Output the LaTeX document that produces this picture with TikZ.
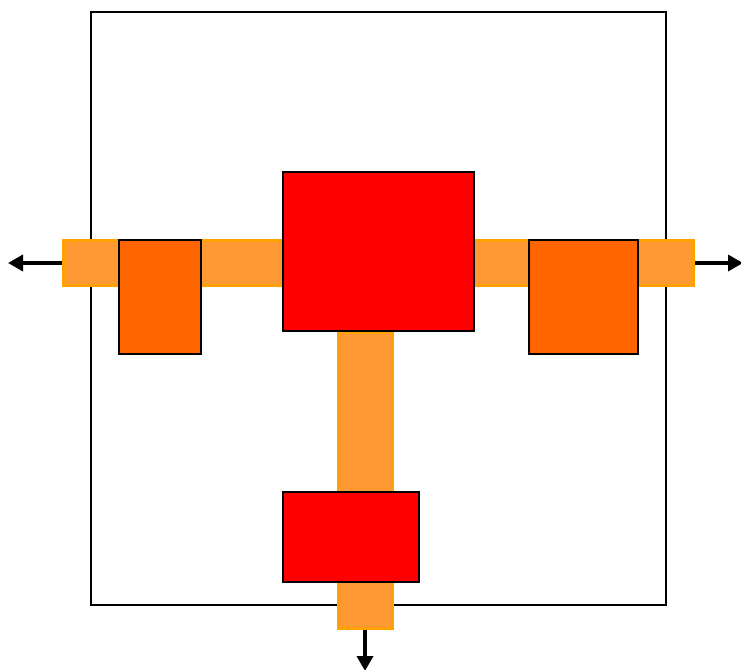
\documentclass[tikz,border=0pt]{standalone}
\usetikzlibrary{arrows.meta}
\definecolor{barfill}{HTML}{FF9933}
\definecolor{bardraw}{HTML}{FFA200}
\definecolor{boxorange}{HTML}{FF6600}
\begin{document}
\begin{tikzpicture}[x=1pt,y=-1pt,
  bar/.style={rectangle, inner sep=0pt, fill=barfill, draw=bardraw, line width=3pt},
  redbox/.style={rectangle, inner sep=0pt, fill=red, draw=black, line width=1.5pt},
  orangebox/.style={rectangle, inner sep=0pt, fill=boxorange, draw=black, line width=1.3pt},
  outarrow/.style={line width=3.5pt, -{Triangle[length=15pt,width=16pt]}}]
\useasboundingbox (0,0) rectangle (741,669);
\node[rectangle, draw=black, line width=1.5pt, inner sep=0pt, minimum width=575pt, minimum height=593pt] (frame) at (378.5,308.5) {};
\node[bar, minimum width=630pt, minimum height=45pt] (hbar) at (378.5,263) {};
\node[bar, minimum width=54pt, minimum height=296pt] (vbar) at (365,480) {};
\node[redbox, minimum width=191pt, minimum height=159pt] (bigred) at (378.5,251.5) {};
\node[redbox, minimum width=136pt, minimum height=90pt] (smallred) at (351,537) {};
\node[orangebox, minimum width=82pt, minimum height=114pt] (leftbox) at (160,297) {};
\node[orangebox, minimum width=109pt, minimum height=114pt] (rightbox) at (583.5,297) {};
\coordinate (lend) at (8,263);
\coordinate (rend) at (743,263);
\coordinate (dend) at (365,671);
\draw[outarrow] (hbar.west) -- (lend);
\draw[outarrow] (hbar.east) -- (rend);
\draw[outarrow] (vbar.south) -- (dend);
\end{tikzpicture}
\end{document}
